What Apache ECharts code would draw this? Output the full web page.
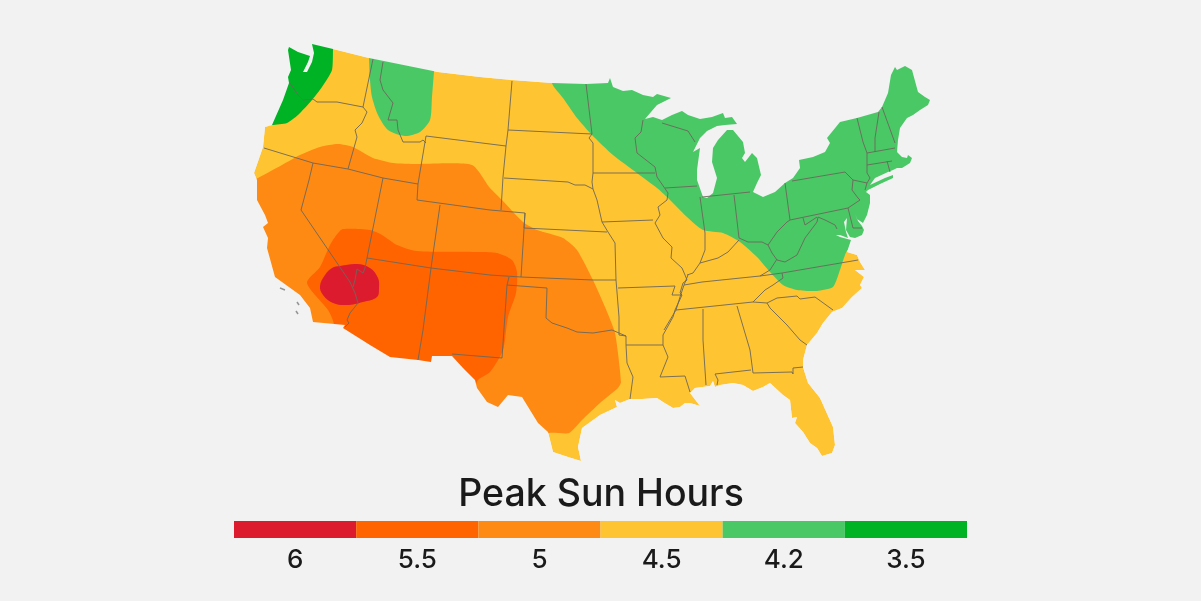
<!DOCTYPE html>
<html>
<head>
<meta charset="utf-8">
<title>Peak Sun Hours</title>
<script src="https://cdn.jsdelivr.net/npm/echarts@6/dist/echarts.min.js"></script>
<style>
html,body{margin:0;padding:0;background:#f2f2f2;}
#main{width:1201px;height:601px;}
</style>
</head>
<body>
<div id="main"></div>
<script>
// legend
var hourLabels = ['6','5.5','5','4.5','4.2','3.5'];
var hourColors = ['#dc1c2e','#ff6400','#fe8a14','#ffc431','#4ac866','#00b324'];

// outline of the country, clockwise from the Washington coast
var landOutline = [
[289,47],[298,52],[310,56],[308,62],[303,72],[307,72],[312,62],[314,53],[312,44],
[333,49],[369,58],[438,72],[480,77],[512,80],[552,83],[586,84],[608,83],[610,78],[613,87],[623,91],[632,90],[643,95],[653,97],[657,94],[671,98],
[657,105],[645,119],[653,117],[662,120],[672,115],[682,111],[688,115],[700,119],[712,117],[723,113],[725,118],[732,117],[737,124],
[725,125],[717,126],[707,131],[700,138],[693,152],[700,148],[697,170],[697,180],[703,197],[707,198],[713,193],[717,178],[712,162],[713,148],[718,140],[727,130],
[733,130],[743,142],[745,153],[742,158],[745,162],[752,153],[757,158],[761,175],[757,183],[753,192],[763,197],[775,192],[785,183],[793,178],[800,168],[799,160],
[813,157],[825,152],[830,143],[827,138],[840,122],[857,118],[878,112],[882,107],[888,93],[891,75],[895,67],[897,70],[905,66],[912,70],[918,92],[925,97],[930,100],[928,105],
[920,110],[913,115],[907,118],[900,128],[898,140],[897,152],[902,157],[907,158],[908,155],[912,158],[910,163],[902,168],[897,168],[893,170],[888,172],[875,178],[870,185],
[885,178],[893,175],[893,178],[880,184],[868,190],[866,192],[870,195],[870,203],[867,215],[863,223],[857,219],[855,214],[858,221],[862,226],[864,230],[862,235],[855,238],[850,237],
[846,230],[847,218],[844,222],[846,232],[848,238],[840,235],[836,235],[840,237],[851,240],[847,252],
[857,255],[860,262],[865,270],[855,270],[864,277],[860,285],[862,288],[852,297],[842,308],[832,312],[823,323],[817,333],[807,345],[803,360],[803,367],[808,383],[820,398],
[833,427],[835,445],[832,453],[822,456],[817,448],[810,443],[803,432],[795,423],[797,417],[792,418],[790,400],[783,395],[770,383],[763,387],[753,391],[743,385],[733,383],[720,385],[715,387],[713,381],[710,386],
[695,388],[690,393],[700,406],[690,403],[685,403],[680,407],[673,408],[663,402],[657,398],[642,399],[630,399],[620,403],[615,400],[617,407],[600,415],[582,428],[578,447],[581,461],
[568,457],[553,452],[548,432],[538,423],[522,397],[508,395],[498,407],[487,402],[477,388],[475,380],[463,368],[452,356],[432,356],[431,362],[418,360],[390,357],[370,345],[343,328],[345,325],[313,322],
[310,308],[300,295],[275,277],[267,248],[268,238],[263,227],[268,223],[265,215],[257,200],[257,180],[254,173],[263,147],[265,127],[272,125],[283,100],[289,83],[288,77],[291,70],[288,50]
];

// hour zones, they run past the coast and the mask trims them
var zone5 = [[240,186],[258,178],[282,165],[300,155],[320,147],[338,144],[353,147],[373,158],[393,163],[417,164],[472,165],[490,188],[502,200],[523,222],[537,230],[563,238],[577,250],[593,280],[605,307],[615,333],[621,382],[618,388],[600,403],[582,420],[569,433],[549,433],[530,445],[245,445]];
var zone55 = [[343,229],[370,230],[382,235],[397,245],[417,251],[480,252],[497,253],[512,260],[517,272],[516,293],[508,317],[503,350],[490,372],[478,380],[470,395],[350,372],[333,335],[334,324],[328,310],[307,283],[320,267],[330,245],[338,233]];
var zone6 = [[340,266],[357,264],[370,268],[378,278],[379,288],[377,297],[363,302],[347,305],[333,303],[323,295],[320,286],[325,275],[332,268]];
var zone42East = [[552,83],[563,98],[577,118],[592,135],[613,155],[637,173],[657,188],[667,197],[687,217],[703,230],[723,233],[740,242],[757,257],[770,272],[783,285],[797,290],[817,291],[833,287],[839,273],[845,255],[848,250],[880,250],[945,200],[945,35],[552,35]];
var zone42West = [[369,50],[369,58],[370,80],[372,97],[378,115],[388,130],[405,136],[420,132],[430,120],[432,97],[434,72],[436,50]];
var zone35 = [[333,35],[333,49],[332,70],[322,87],[312,100],[298,115],[287,123],[272,125],[250,125],[270,35]];

// state borders
var stateLines = [
[[290,83],[298,95],[303,100],[313,99],[317,102],[337,102],[363,107]],
[[373,59],[363,107],[367,112],[362,123],[355,130],[357,137],[348,169]],
[[383,62],[380,80],[383,90],[393,103],[388,120],[397,120],[398,130],[403,142],[420,142],[423,140],[426,143]],
[[264,148],[313,163],[348,169],[383,178],[418,184]],
[[426,136],[490,144],[506,146]],
[[426,136],[418,184],[417,200],[490,210],[525,213],[524,228],[607,232]],
[[440,205],[431,268],[423,330],[418,360]],
[[383,178],[367,258],[431,268],[490,275],[521,277],[593,280],[616,280],[619,317],[619,335],[626,336],[626,345],[627,363],[633,377],[630,399]],
[[525,213],[521,277]],
[[509,277],[507,285],[502,358],[452,354]],
[[507,285],[547,288],[546,318],[552,323],[567,328],[577,332],[593,333],[612,330],[626,336]],
[[313,163],[309,180],[301,210],[350,282],[355,293],[358,303],[350,313],[347,320],[349,323],[345,327]],
[[367,258],[365,268],[363,273],[357,269],[355,280],[353,287]],
[[512,81],[508,130],[506,146],[503,177],[501,210]],
[[508,130],[592,134]],
[[504,178],[568,182],[575,185],[585,185],[593,189]],
[[586,84],[592,134],[589,138],[593,143],[593,173],[592,182],[593,189],[597,200],[602,222],[608,232],[615,243],[616,280]],
[[593,173],[655,173]],
[[602,222],[653,220]],
[[643,120],[641,132],[635,138],[637,153],[655,167],[657,177],[668,193],[667,200],[658,207],[660,215],[655,223],[663,238],[672,247],[671,258],[682,268],[685,275],[687,280],[683,283],[680,293],[682,295],[675,310],[673,317],[663,335],[663,345],[668,357],[660,377],[685,376],[690,392]],
[[618,288],[675,286],[672,295],[682,295]],
[[626,345],[663,345]],
[[662,123],[688,131],[695,142]],
[[665,188],[697,186]],
[[700,197],[705,233],[705,250],[700,263],[693,273],[687,275]],
[[700,263],[718,258],[728,252],[739,240]],
[[702,197],[750,192]],
[[734,195],[739,238],[748,242],[762,242],[768,245],[777,232],[787,222],[790,220]],
[[785,183],[790,220],[848,208],[853,228],[862,228]],
[[768,245],[772,253],[777,260],[785,262],[797,255],[805,238],[817,222],[818,217],[825,220],[835,225],[837,229]],
[[803,218],[805,225],[817,217]],
[[792,181],[845,172],[853,180],[852,190],[858,198],[860,200],[848,208]],
[[853,180],[867,183],[865,190]],
[[857,118],[863,142],[867,153],[867,173],[870,178],[867,183]],
[[867,153],[895,148]],
[[879,112],[875,138],[875,152]],
[[882,107],[895,143]],
[[867,165],[892,161]],
[[887,161],[890,172]],
[[684,285],[702,282],[760,276],[782,273],[858,260]],
[[688,275],[684,285],[680,297],[676,310],[664,330]],
[[760,276],[770,270],[777,259]],
[[782,273],[783,278],[773,285],[765,290],[753,302],[676,310]],
[[753,302],[767,303],[777,298],[797,296],[800,299],[815,297],[833,310]],
[[767,303],[770,308],[777,315],[787,325],[800,340],[807,345]],
[[737,306],[750,350],[753,373],[792,372],[793,374],[793,368],[803,367]],
[[715,374],[751,370]],
[[715,374],[718,380],[717,385]],
[[703,309],[703,340],[706,385]]
];

// channel islands
var islands = [
[[280,288],[285,290]],
[[297,302],[299,305]],
[[296,311],[298,314]]
];

var bgColor = '#f2f2f2';
var lineColor = '#6b675a';

// everything round the land, same colour as the page: outer box then the outline back to front
function buildMask(){
    var box = [[200,5],[200,470],[1000,470],[1000,5],[200,5]];
    return box.concat(landOutline,[landOutline[0]],[[200,5]]);
}

var shapes = [
    {type:'polygon',pts:landOutline,fill:hourColors[3]},
    {type:'polygon',pts:zone42West,fill:hourColors[4],smooth:0.25},
    {type:'polygon',pts:zone42East,fill:hourColors[4],smooth:0.2},
    {type:'polygon',pts:zone35,fill:hourColors[5],smooth:0.2},
    {type:'polygon',pts:zone5,fill:hourColors[2],smooth:0.2},
    {type:'polygon',pts:zone55,fill:hourColors[1],smooth:0.25},
    {type:'polygon',pts:zone6,fill:hourColors[0],smooth:0.4},
    {type:'polygon',pts:buildMask(),fill:bgColor}
];
stateLines.forEach(function(line){
    shapes.push({type:'polyline',pts:line,stroke:lineColor,width:1});
});
islands.forEach(function(line){
    shapes.push({type:'polyline',pts:line,stroke:'#8a8a8a',width:1.5});
});

function renderShape(params,api){
    var item = shapes[params.dataIndex];
    var points = item.pts.map(function(p){
        return api.coord(p);
    });
    if(item.type == 'polygon'){
        return {
            type:'polygon',
            shape:{points:points,smooth:item.smooth || 0},
            style:{fill:item.fill,stroke:null}
        };
    }
    return {
        type:'polyline',
        shape:{points:points},
        style:{fill:null,stroke:item.stroke,lineWidth:item.width,opacity:0.9}
    };
}

var chart = echarts.init(document.getElementById('main'),null,{renderer:'canvas'});

chart.setOption({
    backgroundColor:bgColor,
    animation:false,
    title:{
        text:'Peak Sun Hours',
        left:596,
        top:471,
        textAlign:'center',
        textStyle:{fontFamily:'Inter',fontSize:37.5,fontWeight:500,color:'#1a1a1a'}
    },
    grid:[
        {left:0,top:0,width:1201,height:601},
        {left:234,top:521,width:733,height:17}
    ],
    xAxis:[
        {type:'value',gridIndex:0,min:0,max:1201,show:false},
        {
            type:'category',gridIndex:1,data:hourLabels,
            axisLine:{show:false},axisTick:{show:false},
            axisLabel:{margin:9,fontFamily:'Inter',fontSize:26,fontWeight:500,color:'#1a1a1a'}
        }
    ],
    yAxis:[
        {type:'value',gridIndex:0,min:0,max:601,inverse:true,show:false},
        {type:'value',gridIndex:1,min:0,max:1,show:false}
    ],
    series:[
        {
            type:'custom',
            xAxisIndex:0,yAxisIndex:0,
            clip:false,silent:true,
            renderItem:renderShape,
            encode:{x:0,y:1},
            data:shapes.map(function(s){return s.pts[0];})
        },
        {
            type:'bar',
            xAxisIndex:1,yAxisIndex:1,
            barWidth:'100%',
            silent:true,
            data:hourColors.map(function(c){
                return {value:1,itemStyle:{color:c}};
            })
        }
    ]
});
</script>
</body>
</html>
